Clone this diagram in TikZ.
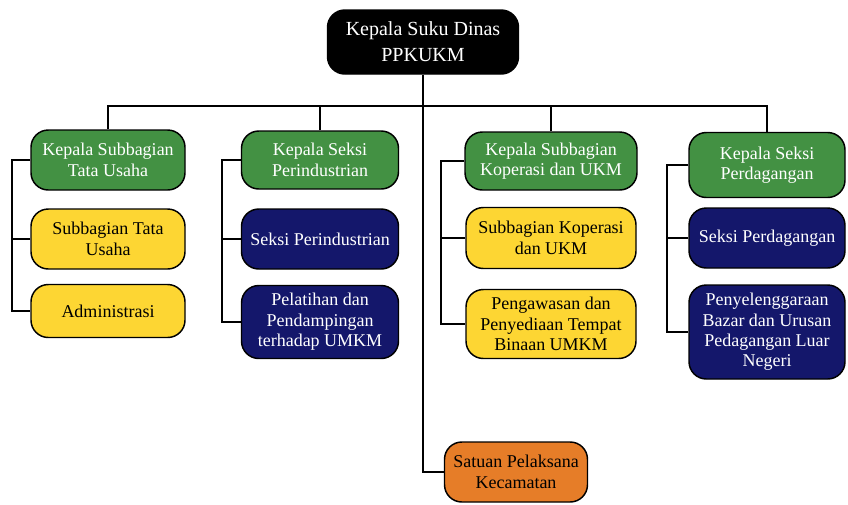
\documentclass[tikz,border=0pt]{standalone}
\usepackage{fontspec}
\setmainfont{Liberation Serif}
\usepackage{xcolor}
\definecolor{colorHead}{RGB}{0,0,0}
\definecolor{colorKepala}{RGB}{67,145,67}
\definecolor{colorSub}{RGB}{253,214,51}
\definecolor{colorSeksi}{RGB}{20,23,107}
\definecolor{colorSatuan}{RGB}{230,125,40}
\usetikzlibrary{positioning}
\tikzset{
  unit/.style={draw=black, line width=1.1pt, rounded corners=13pt, align=center,
    inner sep=2pt, font=\fontsize{13.5}{15.3}\selectfont},
  head/.style={unit, fill=colorHead, text=white, font=\fontsize{15}{19.5}\selectfont},
  kepala/.style={unit, fill=colorKepala, text=white},
  sub/.style={unit, fill=colorSub, text=black},
  seksi/.style={unit, fill=colorSeksi, text=white},
  satuan/.style={unit, fill=colorSatuan, text=black},
  link/.style={line width=1.2pt, black}
}
\begin{document}
\begin{tikzpicture}[x=0.75pt, y=-0.75pt]
\useasboundingbox (0,0) rectangle (848,504);
% head
\node[head, minimum width=191*0.75pt, minimum height=64*0.75pt] (ks) at (423,42) {Kepala Suku Dinas\\PPKUKM};
% column tata usaha
\node[kepala, minimum width=154*0.75pt, minimum height=60*0.75pt] (kTU) at (108,160) {Kepala Subbagian\\Tata Usaha};
\node[sub, minimum width=154*0.75pt, minimum height=60*0.75pt] (sTU) at (108,239) {Subbagian Tata\\Usaha};
\node[sub, minimum width=154*0.75pt, minimum height=53*0.75pt] (adm) at (108,311) {Administrasi};
% column perindustrian
\node[kepala, minimum width=157*0.75pt, minimum height=58*0.75pt] (kPI) at (320,160) {Kepala Seksi\\Perindustrian};
\node[seksi, minimum width=157*0.75pt, minimum height=60*0.75pt] (sPI) at (320,239) {Seksi Perindustrian};
\node[seksi, minimum width=157*0.75pt, minimum height=73*0.75pt] (pel) at (320,322) {Pelatihan dan\\Pendampingan\\terhadap UMKM};
% column koperasi
\node[kepala, minimum width=172*0.75pt, minimum height=58*0.75pt] (kKU) at (551,161) {Kepala Subbagian\\Koperasi dan UKM};
\node[sub, minimum width=170*0.75pt, minimum height=61*0.75pt] (sKU) at (551,238) {Subbagian Koperasi\\dan UKM};
\node[sub, minimum width=170*0.75pt, minimum height=69*0.75pt] (peng) at (551,324) {Pengawasan dan\\Penyediaan Tempat\\Binaan UMKM};
% column perdagangan
\node[kepala, minimum width=156*0.75pt, minimum height=65*0.75pt] (kPD) at (767,165) {Kepala Seksi\\Perdagangan};
\node[seksi, minimum width=156*0.75pt, minimum height=60*0.75pt] (sPD) at (767,238) {Seksi Perdagangan};
\node[seksi, minimum width=156*0.75pt, minimum height=94*0.75pt] (baz) at (767,332) {Penyelenggaraan\\Bazar dan Urusan\\Pedagangan Luar\\Negeri};
% satuan
\node[satuan, minimum width=143*0.75pt, minimum height=60*0.75pt] (sat) at (516,472) {Satuan Pelaksana\\Kecamatan};
% links
\coordinate (bar) at (423,106);
\draw[link] (kTU.north) |- (bar) -| (kPD.north);
\draw[link] (kPI.north) -- (kPI.north |- bar);
\draw[link] (kKU.north) -- (kKU.north |- bar);
\draw[link] (ks.south) |- (sat.west);
\draw[link] (kTU.west) -- ++(-18,0) |- (adm.west);
\draw[link] (sTU.west) -- ++(-18,0);
\draw[link] (kPI.west) -- ++(-19,0) |- (pel.west);
\draw[link] (sPI.west) -- ++(-19,0);
\draw[link] (kKU.west) -- ++(-23,0) |- (peng.west);
\draw[link] (sKU.west) -- ++(-24,0);
\draw[link] (kPD.west) -- ++(-21,0) |- (baz.west);
\draw[link] (sPD.west) -- ++(-21,0);
\end{tikzpicture}
\end{document}
